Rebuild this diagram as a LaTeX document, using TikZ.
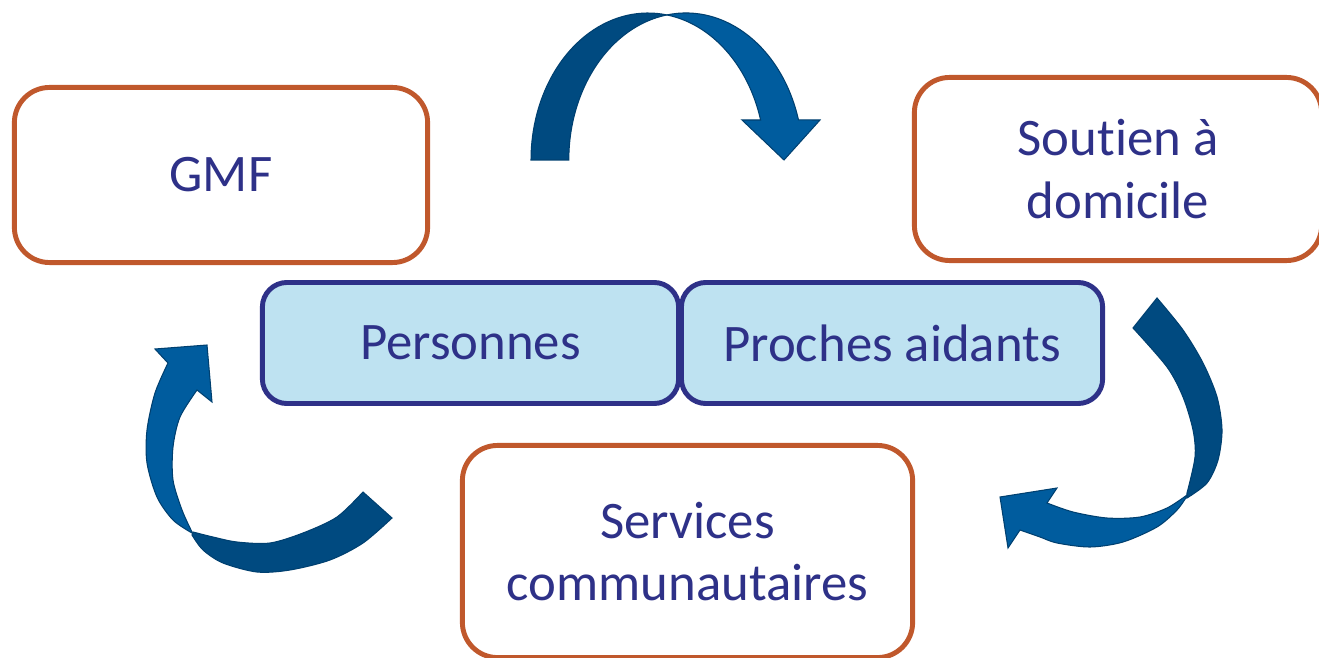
\documentclass[tikz,border=0pt]{standalone}
\usepackage{fontspec}
\setmainfont{Carlito}[Ligatures=NoCommon]
\usepackage{tikz}

\definecolor{rust}{RGB}{192,88,44}
\definecolor{navy}{RGB}{46,49,136}
\definecolor{paleblue}{RGB}{190,226,241}
\definecolor{arrowdark}{RGB}{0,74,128}
\definecolor{arrowlight}{RGB}{0,92,158}
\definecolor{arrowedge}{RGB}{0,64,112}

\tikzset{
  partner/.style={draw=rust, line width=1.4pt, rounded corners=10pt, fill=white,
    text=navy, align=center, font=\fontsize{15}{17.8}\selectfont},
  core/.style={draw=navy, line width=1.4pt, rounded corners=7pt, fill=paleblue,
    text=navy, minimum height=1.21cm, font=\fontsize{15}{17.8}\selectfont},
  back/.style={fill=arrowdark, draw=arrowedge, line width=0.3pt},
  front/.style={fill=arrowlight, draw=arrowedge, line width=0.3pt}
}

\begin{document}
\begin{tikzpicture}[x=0.01cm, y=-0.01cm]

\useasboundingbox (0,0) rectangle (1319,658);
\clip (0,0) rectangle (1319,658);

% the four partners
\node[partner, minimum width=4.13cm, minimum height=1.75cm] (gmf) at (221,175) {GMF};
\node[partner, minimum width=4.07cm, minimum height=1.83cm] (soutien) at (1118,169) {Soutien à\\domicile};
\node[partner, minimum width=4.50cm, minimum height=2.12cm] (services) at (687.5,551.5) {Services\\communautaires};

\node[core, minimum width=4.16cm] (personnes) at (470.5,343) {Personnes};
\node[core, minimum width=4.21cm] (proches) at (892,343) {Proches aidants};

% top arrow: two shifted half ellipses
\fill[back] (531,160) arc[start angle=180, end angle=279.3, x radius=117, y radius=147]
  arc[start angle=260.7, end angle=180, x radius=117, y radius=147] -- cycle;
\fill[front] (667,14.9) arc[start angle=260.7, end angle=344.2, x radius=117, y radius=147]
  -- (820,120) -- (784,160) -- (742,120) -- (760.6,120)
  arc[start angle=344.2, end angle=279.3, x radius=117, y radius=147] -- cycle;

% left arrow
\fill[back] plot[smooth] coordinates {(363,492) (337,517) (303,533) (270,543) (237,542) (213,537) (193,532)}
  -- plot[smooth] coordinates {(192,535) (203,550) (223,563) (257,572) (290,570) (330,560) (363,543) (392,518)} -- cycle;
\fill[front] plot[smooth] coordinates {(192,533) (173,520) (157,497) (147,463) (147,430) (155,393) (168,363)}
  -- (155,349) -- (207,345) -- (212,402)
  -- plot[smooth] coordinates {(197,390) (180,417) (173,447) (173,480) (182,510) (192,532)} -- cycle;

% right arrow
\fill[back] plot[smooth] coordinates {(1157,298) (1183,330) (1203,363) (1217,397) (1222,430) (1218,460) (1207,483) (1187,498)}
  -- plot[smooth] coordinates {(1187,493) (1195,457) (1193,430) (1183,397) (1167,367) (1133,328)} -- cycle;
\fill[front] plot[smooth] coordinates {(1187,496) (1177,510) (1157,527) (1123,542) (1090,547) (1057,543) (1040,537) (1020,530)}
  -- (1008,548) -- (1000,497) -- (1057,488)
  -- plot[smooth] coordinates {(1047,503) (1073,512) (1107,518) (1140,517) (1167,508) (1187,495)} -- cycle;

\end{tikzpicture}
\end{document}
